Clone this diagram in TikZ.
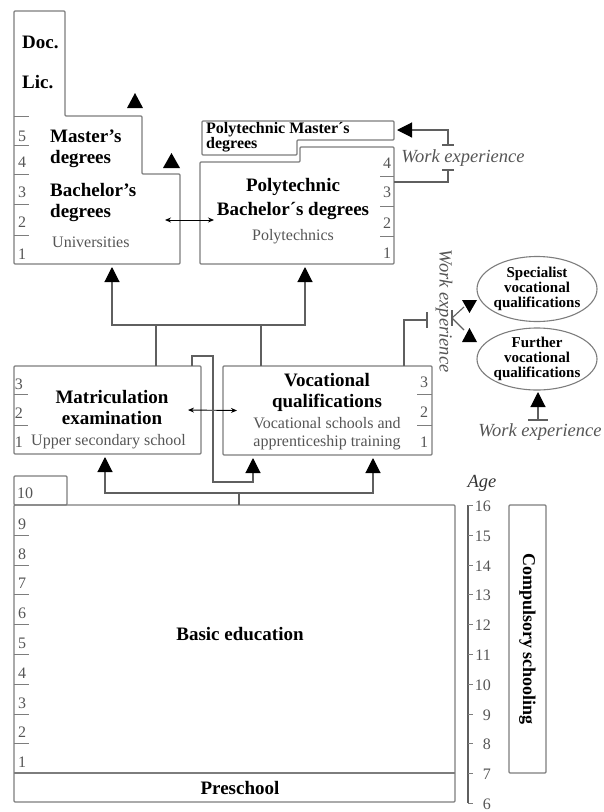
\documentclass[tikz,border=0pt]{standalone}
\usepackage{fontspec}
\setmainfont{Liberation Serif}
\usetikzlibrary{arrows.meta,shapes.geometric}
\definecolor{boxgray}{RGB}{125,125,125}
\definecolor{linegray}{RGB}{95,95,95}
\definecolor{txtgray}{RGB}{85,85,85}
\tikzset{
  box/.style={draw=boxgray, line width=1.3pt, rounded corners=1pt, outer sep=0pt},
  conn/.style={draw=linegray, line width=1.1pt},
  arr/.style={conn, -{Triangle[length=15pt,width=15pt,color=black]}, shorten >=3pt},
  dbl/.style={draw=black, line width=0.9pt, {Stealth[length=6pt,width=5pt]}-{Stealth[length=6pt,width=5pt]}},
  head/.style={font=\fontsize{19}{21}\selectfont\bfseries, align=center, inner sep=0pt},
  sub/.style={font=\fontsize{16}{18}\selectfont, text=txtgray, align=center, inner sep=0pt},
  num/.style={font=\fontsize{16}{18}\selectfont, text=txtgray, inner sep=0pt},
  wexp/.style={font=\fontsize{18.5}{20}\selectfont\itshape, text=txtgray, inner sep=0pt},
  oval/.style={ellipse, draw=boxgray, line width=1.1pt, inner sep=0pt, outer sep=0pt},
  ovtxt/.style={font=\fontsize{15}{15}\selectfont\bfseries, align=center, inner sep=0pt},
  tick/.style={draw=boxgray, line width=1pt},
}
\begin{document}
\begin{tikzpicture}[x=1pt,y=-1pt]
                    \useasboundingbox (0,0) rectangle (603,812);
                    % universities
                    \draw[box] (14,11) -- (65,11) -- (65,116) -- (142,116) -- (142,174) -- (180,174) -- (180,264) -- (14,264) -- cycle;
                    \coordinate (univ-s) at (112,264);
                    \coordinate (univ-e) at (165,220);
                    \node[head, anchor=west] (doc) at (22,42) {Doc.};
                    \node[head, anchor=west] (lic) at (22,82) {Lic.};
                    \node[head, anchor=west, align=left] (mast) at (50,149) {Master's\\degrees};
                    \node[head, anchor=west, align=left] (bach) at (50,202) {Bachelor's\\degrees};
                    \node[sub, anchor=west] (univ-t) at (52,242) {Universities};
                    \draw[tick] (14,116) -- (29,116);
                    \draw[tick] (14,145) -- (29,145);
                    \draw[tick] (14,174) -- (29,174);
                    \draw[tick] (14,204) -- (29,204);
                    \draw[tick] (14,235) -- (29,235);
                    \node[num] (u5) at (22,136) {5};
                    \node[num] (u4) at (22,162) {4};
                    \node[num] (u3) at (22,192) {3};
                    \node[num] (u2) at (22,222) {2};
                    \node[num] (u1) at (22,254) {1};
                    \fill (127,108) -- (143,108) -- (135,93) -- cycle;
                    \fill (163,168) -- (180,168) -- (171.5,153) -- cycle;
                    % polytechnics
                    \draw[box] (202,121) -- (394,121) -- (394,140) -- (297,140) -- (297,155) -- (202,155) -- cycle;
                    \draw[box] (200,162) -- (300,162) -- (300,147) -- (394,147) -- (394,264) -- (200,264) -- cycle;
                    \coordinate (pmast-e) at (394,130);
                    \coordinate (poly-s) at (305,264);
                    \coordinate (poly-e) at (394,182);
                    \coordinate (poly-w) at (214,220);
                    \node[anchor=north west, align=left, inner sep=0pt, font=\fontsize{16}{15}\selectfont\bfseries] (pmast) at (206,122) {Polytechnic Master´s\\degrees};
                    \node[head, font=\fontsize{19}{24}\selectfont\bfseries] (pbach) at (293,199) {Polytechnic\\Bachelor´s degrees};
                    \node[sub] (poly-t) at (293,237) {Polytechnics};
                    \draw[tick] (380,176) -- (394,176);
                    \draw[tick] (380,206) -- (394,206);
                    \draw[tick] (380,236) -- (394,236);
                    \node[num] (p4) at (387,163) {4};
                    \node[num] (p3) at (387,192) {3};
                    \node[num] (p2) at (387,223) {2};
                    \node[num] (p1) at (387,253) {1};
                    \draw[dbl] (univ-e) -- (poly-w);
                    % work experience to polytechnic master
                    \node[wexp] (we1) at (463,158) {Work experience};
                    \coordinate (we1a) at (448,145);
                    \coordinate (we1b) at (448,170);
                    \draw[conn] (poly-e) -| (we1b);
                    \draw[conn] ([xshift=-6pt]we1b) -- ([xshift=6pt]we1b);
                    \draw[conn] ([xshift=-6pt]we1a) -- ([xshift=6pt]we1a);
                    \draw[arr] (we1a) |- (pmast-e);
                    % upper secondary
                    \node[box, minimum width=187pt, minimum height=88pt, anchor=north west] (matric) at (14,366) {};
                    \node[head] (matric-t) at (112,407) {Matriculation\\examination};
                    \node[sub, anchor=west] (matric-s) at (31,442) {Upper secondary school};
                    \draw[tick] (14,394) -- (28,394);
                    \draw[tick] (14,425) -- (28,425);
                    \node[num] (m3) at (19,384) {3};
                    \node[num] (m2) at (19,413) {2};
                    \node[num] (m1n) at (19,442) {1};
                    \node[box, minimum width=209pt, minimum height=89pt, anchor=north west] (voc) at (223,366) {};
                    \node[head] (voc-t) at (327,392) {Vocational\\qualifications};
                    \node[sub] (voc-s) at (327,434) {Vocational schools and\\apprenticeship training};
                    \draw[tick] (417,394) -- (432,394);
                    \draw[tick] (417,425) -- (432,425);
                    \node[num] (v3) at (424,382) {3};
                    \node[num] (v2) at (424,412) {2};
                    \node[num] (v1n) at (424,442) {1};
                    \draw[dbl] ([xshift=-13pt]matric.east) -- ([xshift=14pt]voc.west);
                    % to higher education
                    \coordinate (m1) at (156,325);
                    \coordinate (v1) at (261,325);
                    \draw[arr] (matric.north -| m1) -- (m1) -| (poly-s);
                    \draw[arr] (voc.north -| v1) -- (v1) -| (univ-s);
                    \coordinate (mv1) at (192,356);
                    \coordinate (mv2) at (213,356);
                    \coordinate (mv3) at (213,482);
                    \coordinate (mv4) at (253,482);
                    \draw[arr] (matric.north -| mv1) -- (mv1) -- (mv2) -- (mv3) -- (mv4) -- (voc.south -| mv4);
                    % further qualifications
                    \node[oval, minimum width=120pt, minimum height=65pt] (spec) at (537,289) {};
                    \node[ovtxt] (spec-t) at (spec) {Specialist\\vocational\\qualifications};
                    \node[oval, minimum width=120pt, minimum height=62pt] (furth) at (537,359) {};
                    \node[ovtxt] (furth-t) at (furth) {Further\\vocational\\qualifications};
                    \node[wexp, rotate=-90] (we2) at (444,311) {Work experience};
                    \coordinate (we2a) at (404,320);
                    \coordinate (we2b) at (427,320);
                    \coordinate (we2c) at (452,318);
                    \coordinate (we2d) at (464,307);
                    \coordinate (we2e) at (464,330);
                    \draw[conn] (voc.north -| we2a) -- (we2a) -- (we2b);
                    \draw[conn] ([yshift=8pt]we2b) -- ([yshift=-8pt]we2b);
                    \draw[conn] ([yshift=8pt]we2c) -- ([yshift=-8pt]we2c);
                    \draw[conn] (we2c) -- (we2d);
                    \draw[conn] (we2c) -- (we2e);
                    \fill (462,300) -- (477,300) -- (469.5,313) -- cycle;
                    \fill (462,342) -- (477,342) -- (469.5,328) -- cycle;
                    \node[wexp] (we3) at (540,432) {Work experience};
                    \coordinate (we3a) at (538,420);
                    \draw[conn] ([xshift=-10pt]we3a) -- ([xshift=10pt]we3a);
                    \draw[arr, shorten >=2pt] (we3a) -- (furth.south -| we3a);
                    % basic education
                    \node[box, minimum width=441pt, minimum height=297pt, anchor=north west] (basic) at (14,505) {};
                    \node[box, minimum width=53pt, minimum height=29pt, anchor=south west] (g10) at (14,505) {};
                    \draw[box] ([yshift=29pt]basic.south west) -- ([yshift=29pt]basic.south east);
                    \node[num] (b10) at (25,493) {10};
                    \node[head] (basic-t) at (240,634) {Basic education};
                    \node[head] (pre-t) at (240,788) {Preschool};
                    \draw[tick] (14,535) -- (29,535);
                    \draw[tick] (14,565) -- (29,565);
                    \draw[tick] (14,594) -- (29,594);
                    \draw[tick] (14,624) -- (29,624);
                    \draw[tick] (14,654) -- (29,654);
                    \draw[tick] (14,684) -- (29,684);
                    \draw[tick] (14,714) -- (29,714);
                    \draw[tick] (14,743) -- (29,743);
                    \node[num] (b9) at (22,524) {9};
                    \node[num] (b8) at (22,554) {8};
                    \node[num] (b7) at (22,583) {7};
                    \node[num] (b6) at (22,613) {6};
                    \node[num] (b5) at (22,643) {5};
                    \node[num] (b4) at (22,673) {4};
                    \node[num] (b3) at (22,703) {3};
                    \node[num] (b2) at (22,732) {2};
                    \node[num] (b1n) at (22,762) {1};
                    \coordinate (b1) at (239,493);
                    \coordinate (bl) at (105,493);
                    \coordinate (br) at (373,493);
                    \draw[arr] (basic.north -| b1) -- (b1) -- (bl) -- (matric.south -| bl);
                    \draw[arr] (b1) -- (br) -- (voc.south -| br);
                    % age scale
                    \node[wexp, text=black!80] (age) at (482,483) {Age};
                    \draw[conn] (468,505) -- (468,803);
                    \draw[tick] (468,505) -- (473,505); \node[num, anchor=east] (a16) at (491,506) {16};
                    \draw[tick] (468,535) -- (473,535); \node[num, anchor=east] (a15) at (491,536) {15};
                    \draw[tick] (468,565) -- (473,565); \node[num, anchor=east] (a14) at (491,566) {14};
                    \draw[tick] (468,594) -- (473,594); \node[num, anchor=east] (a13) at (491,595) {13};
                    \draw[tick] (468,624) -- (473,624); \node[num, anchor=east] (a12) at (491,625) {12};
                    \draw[tick] (468,654) -- (473,654); \node[num, anchor=east] (a11) at (491,655) {11};
                    \draw[tick] (468,684) -- (473,684); \node[num, anchor=east] (a10) at (491,685) {10};
                    \draw[tick] (468,714) -- (473,714); \node[num, anchor=east] (a9) at (491,715) {9};
                    \draw[tick] (468,743) -- (473,743); \node[num, anchor=east] (a8) at (491,744) {8};
                    \draw[tick] (468,773) -- (473,773); \node[num, anchor=east] (a7) at (491,774) {7};
                    \draw[tick] (468,803) -- (473,803); \node[num, anchor=east] (a6) at (491,804) {6};
                    % compulsory schooling
                    \node[box, minimum width=37pt, minimum height=268pt, anchor=north west] (comp) at (509,505) {};
                    \node[head, rotate=-90, font=\fontsize{18}{20}\selectfont\bfseries] (comp-t) at (comp) {Compulsory schooling};
                    %\draw[conn] (comp.north) -- (comp.south);
                \end{tikzpicture}
\end{document}
